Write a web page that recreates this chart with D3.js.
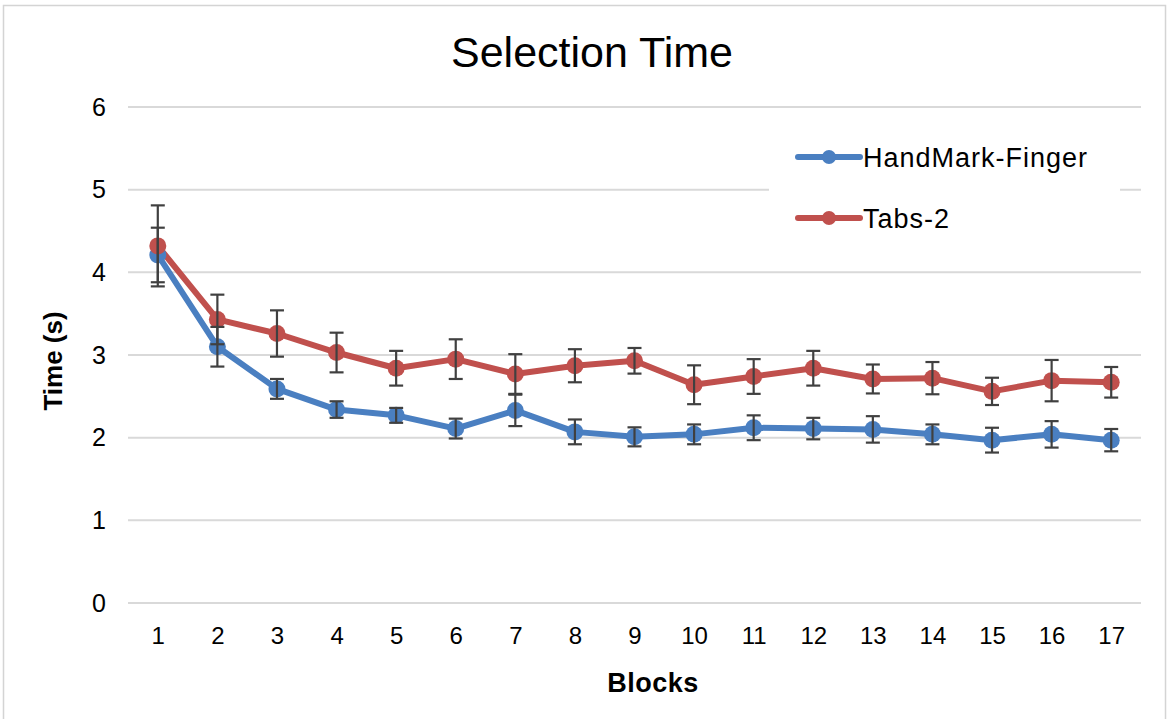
<!DOCTYPE html>
<html>
<head>
<meta charset="utf-8">
<script src="https://cdn.jsdelivr.net/npm/d3@7"></script>
<style>
  body { margin: 0; background: #fff; }
  svg { display: block; font-family: "Liberation Sans", Arial, sans-serif; }
</style>
</head>
<body>
<div id="chart"></div>
<script>
// Data
const blocks = [1, 2, 3, 4, 5, 6, 7, 8, 9, 10, 11, 12, 13, 14, 15, 16, 17]
const handMarkMean = [4.21, 3.10, 2.59, 2.34, 2.27, 2.11, 2.33, 2.07, 2.01, 2.04, 2.12, 2.11, 2.10, 2.04, 1.97, 2.04, 1.97]
const handMarkErr  = [0.33, 0.24, 0.12, 0.10, 0.09, 0.12, 0.19, 0.15, 0.115, 0.12, 0.15, 0.13, 0.16, 0.12, 0.15, 0.16, 0.135]
const tabsMean = [4.32, 3.43, 3.26, 3.03, 2.84, 2.95, 2.77, 2.87, 2.93, 2.64, 2.74, 2.84, 2.71, 2.72, 2.56, 2.69, 2.67]
const tabsErr  = [0.49, 0.30, 0.28, 0.24, 0.21, 0.24, 0.24, 0.20, 0.155, 0.235, 0.21, 0.21, 0.175, 0.195, 0.165, 0.25, 0.185]
const yTicks = [0, 1, 2, 3, 4, 5, 6]

const series = [
    { name: "HandMark-Finger", color: "#4a7fc1", mean: handMarkMean, err: handMarkErr },
    { name: "Tabs-2", color: "#c0504d", mean: tabsMean, err: tabsErr }
]

const width = 1169
const height = 719
const margins = { top: 107, right: 28, bottom: 116, left: 128 }

const wrapper = d3.select("#chart").append("svg")
    .attr("width", width)
    .attr("height", height)

// outer border
wrapper.append("rect")
    .attr("x", 3.5).attr("y", 5.5)
    .attr("width", width - 7).attr("height", height + 20)
    .attr("fill", "none")
    .attr("stroke", "#d4d4d4")
    .attr("stroke-width", 1.5)

// Scales
const xScale = d3.scalePoint()
    .domain(blocks)
    .range([margins.left, width - margins.right])
    .padding(0.5)

const yScale = d3.scaleLinear()
    .domain([0, 6])
    .range([height - margins.bottom, margins.top])

// Gridlines
wrapper.append("g")
    .selectAll("line")
    .data(yTicks)
    .join("line")
    .attr("x1", margins.left)
    .attr("x2", width - margins.right)
    .attr("y1", d => yScale(d))
    .attr("y2", d => yScale(d))
    .attr("stroke", "#d9d9d9")
    .attr("stroke-width", 2)

// Y axis labels
const yAxis = wrapper.append("g")
    .attr("transform", `translate(${margins.left - 22},0)`)
    .call(d3.axisLeft(yScale).tickValues(yTicks).tickFormat(d3.format("d")).tickSize(0).tickPadding(0))
yAxis.select(".domain").remove()
yAxis.selectAll("text")
    .attr("font-size", 25)
    .attr("font-family", "Liberation Sans, Arial, sans-serif")
    .attr("fill", "#000")

// X axis labels
const xAxis = wrapper.append("g")
    .attr("transform", `translate(0,${yScale(0) + 24})`)
    .call(d3.axisBottom(xScale).tickSize(0).tickPadding(0))
xAxis.select(".domain").remove()
xAxis.selectAll("text")
    .attr("font-size", 24)
    .attr("font-family", "Liberation Sans, Arial, sans-serif")
    .attr("fill", "#000")

// Lines, error bars, markers
const lineGenerator = d3.line()
    .x((d, i) => xScale(blocks[i]))
    .y(d => yScale(d))

series.forEach(s => {
    wrapper.append("path")
        .attr("d", lineGenerator(s.mean))
        .attr("fill", "none")
        .attr("stroke", s.color)
        .attr("stroke-width", 6)
        .attr("stroke-linejoin", "round")
})

series.forEach(s => {
    const g = wrapper.append("g")
    const pts = s.mean.map((m, i) => ({ x: blocks[i], m, e: s.err[i] }))
    g.selectAll("circle")
        .data(pts)
        .join("circle")
        .attr("cx", d => xScale(d.x))
        .attr("cy", d => yScale(d.m))
        .attr("r", 8.5)
        .attr("fill", s.color)
})

series.forEach(s => {
    const pts = s.mean.map((m, i) => ({ x: blocks[i], m, e: s.err[i] }))
    const eb = wrapper.append("g")
        .attr("stroke", "#404040")
        .attr("stroke-width", 2.2)
    eb.selectAll(".stem")
        .data(pts)
        .join("line")
        .attr("x1", d => xScale(d.x))
        .attr("x2", d => xScale(d.x))
        .attr("y1", d => yScale(d.m - d.e))
        .attr("y2", d => yScale(d.m + d.e))
    eb.selectAll(".capTop")
        .data(pts)
        .join("line")
        .attr("x1", d => xScale(d.x) - 7)
        .attr("x2", d => xScale(d.x) + 7)
        .attr("y1", d => yScale(d.m + d.e))
        .attr("y2", d => yScale(d.m + d.e))
    eb.selectAll(".capBottom")
        .data(pts)
        .join("line")
        .attr("x1", d => xScale(d.x) - 7)
        .attr("x2", d => xScale(d.x) + 7)
        .attr("y1", d => yScale(d.m - d.e))
        .attr("y2", d => yScale(d.m - d.e))
})

// Legend
const legend = wrapper.append("g")
legend.append("rect")
    .attr("x", 769).attr("y", 128)
    .attr("width", 351).attr("height", 112)
    .attr("fill", "#fff")
series.forEach((s, i) => {
    const y = 157 + i * 61
    legend.append("line")
        .attr("x1", 798).attr("x2", 860)
        .attr("y1", y).attr("y2", y)
        .attr("stroke", s.color)
        .attr("stroke-width", 6)
        .attr("stroke-linecap", "round")
    legend.append("circle")
        .attr("cx", 829).attr("cy", y)
        .attr("r", 7)
        .attr("fill", s.color)
    legend.append("text")
        .attr("x", 863).attr("y", y + 10)
        .attr("font-size", 27)
        .attr("letter-spacing", 1)
        .attr("fill", "#000")
        .text(s.name)
})

// Title
wrapper.append("text")
    .attr("x", 592).attr("y", 67)
    .attr("text-anchor", "middle")
    .attr("font-size", 43)
    .attr("fill", "#000")
    .text("Selection Time")

// Axis titles
wrapper.append("text")
    .attr("x", 653).attr("y", 692)
    .attr("text-anchor", "middle")
    .attr("font-size", 27)
    .attr("font-weight", "bold")
    .attr("letter-spacing", 0.5)
    .attr("fill", "#000")
    .text("Blocks")

wrapper.append("text")
    .attr("transform", "translate(62,361) rotate(-90)")
    .attr("text-anchor", "middle")
    .attr("font-size", 26)
    .attr("font-weight", "bold")
    .attr("fill", "#000")
    .text("Time (s)")
</script>
</body>
</html>
